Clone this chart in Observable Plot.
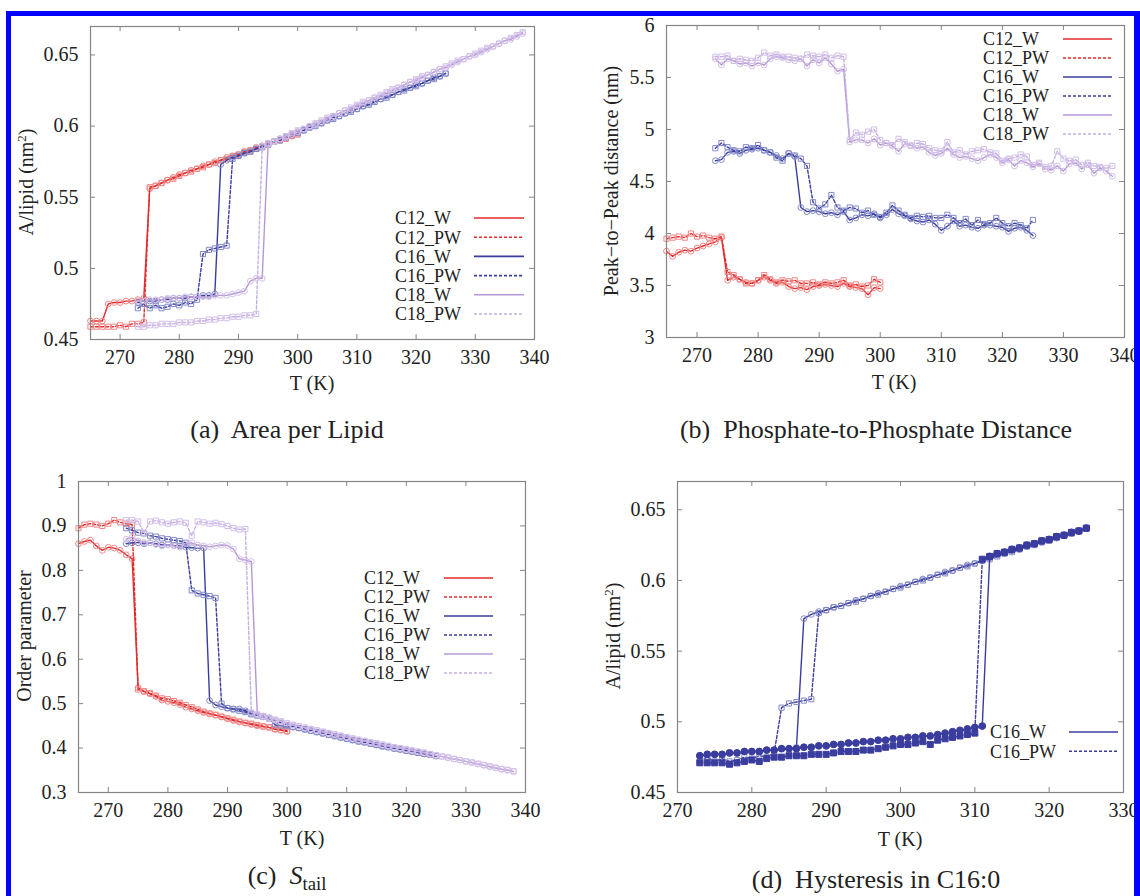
<!DOCTYPE html>
<html>
<head>
<meta charset="utf-8">
<script src="https://cdn.jsdelivr.net/npm/d3@7"></script>
<script src="https://cdn.jsdelivr.net/npm/@observablehq/plot@0.6"></script>
<style>
  html, body { margin: 0; padding: 0; background: #fff; }
  body { width: 1140px; height: 896px; overflow: hidden; position: relative;
         font-family: "Liberation Serif", "DejaVu Serif", "Times New Roman", serif; color: #222; }
  .pane { position: absolute; }
  .lbl { position: absolute; white-space: nowrap; transform: translate(-50%, -50%); font-size: 20px; line-height: 1; }
  .ylbl { transform: translate(-50%, -50%) rotate(-90deg); }
  .cap { font-size: 26px; }
  sup { font-size: 0.65em; vertical-align: 0.55em; line-height: 0; }
  sub { font-size: 0.72em; vertical-align: -0.3em; line-height: 0; }
  #border { position: absolute; left: 6px; top: 11px; width: 1134px; height: 900px; box-sizing: border-box;
            border-left: 5px solid #0000ff; border-top: 5px solid #0000ff; border-right: 6px solid #0000ff;
            z-index: 10; pointer-events: none; }
</style>
</head>
<body>
<script>
// ---------- temperature grids (K) ----------
const tC12 = [265,266,267,268,269,270,271,272,273,274,275,276,277,278,279,280,281,282,283,284,285,286,287,288,289,290,291,292,293,294,295,296,297,298,299,300];
const tC16 = [273,274,275,276,277,278,279,280,281,282,283,284,285,286,287,288,289,290,291,292,293,294,295,296,297,298,299,300,301,302,303,304,305,306,307,308,309,310,311,312,313,314,315,316,317,318,319,320,321,322,323,324,325];
const tC18 = [273,274,275,276,277,278,279,280,281,282,283,284,285,286,287,288,289,290,291,292,293,294,295,296,297,298,299,300,301,302,303,304,305,306,307,308,309,310,311,312,313,314,315,316,317,318,319,320,321,322,323,324,325,326,327,328,329,330,331,332,333,334,335,336,337,338];

// ---------- (a) area per lipid (nm^2) ----------
const apl_C12_W  = [0.463,0.463,0.463,0.475,0.476,0.476,0.477,0.477,0.478,0.479,0.556,0.558,0.560,0.562,0.564,0.566,0.567,0.569,0.570,0.572,0.573,0.575,0.576,0.578,0.579,0.580,0.582,0.583,0.585,0.586,0.588,0.589,0.590,0.592,0.593,0.595];
const apl_C12_PW = [0.459,0.459,0.459,0.459,0.459,0.460,0.459,0.461,0.461,0.462,0.557,0.558,0.560,0.562,0.563,0.565,0.567,0.568,0.570,0.571,0.573,0.574,0.576,0.577,0.579,0.580,0.582,0.583,0.584,0.586,0.587,0.589,0.590,0.591,0.593,0.594];
const apl_C16_W  = [0.476,0.477,0.477,0.477,0.478,0.478,0.479,0.479,0.479,0.480,0.480,0.481,0.481,0.482,0.573,0.576,0.578,0.579,0.581,0.582,0.584,0.586,0.587,0.589,0.591,0.592,0.594,0.596,0.597,0.599,0.601,0.602,0.604,0.606,0.607,0.609,0.611,0.612,0.614,0.616,0.618,0.619,0.621,0.622,0.624,0.626,0.627,0.629,0.630,0.632,0.634,0.635,0.637];
const apl_C16_PW = [0.472,0.475,0.472,0.474,0.472,0.473,0.475,0.474,0.476,0.475,0.478,0.510,0.513,0.514,0.515,0.516,0.577,0.579,0.581,0.582,0.584,0.585,0.587,0.589,0.590,0.592,0.594,0.595,0.597,0.599,0.600,0.602,0.604,0.605,0.607,0.609,0.610,0.612,0.614,0.615,0.617,0.619,0.620,0.622,0.624,0.625,0.627,0.628,0.630,0.632,0.633,0.635,0.637];
const apl_C18_W  = [0.477,0.477,0.478,0.478,0.478,0.479,0.479,0.479,0.480,0.480,0.480,0.480,0.480,0.481,0.481,0.481,0.482,0.483,0.484,0.491,0.493,0.493,0.587,0.589,0.591,0.592,0.594,0.596,0.598,0.600,0.601,0.603,0.605,0.607,0.609,0.611,0.612,0.614,0.616,0.618,0.620,0.621,0.623,0.625,0.627,0.629,0.631,0.632,0.634,0.636,0.638,0.640,0.641,0.643,0.645,0.647,0.649,0.650,0.652,0.654,0.656,0.658,0.660,0.661,0.663,0.665];
const apl_C18_PW = [0.459,0.459,0.460,0.460,0.461,0.461,0.461,0.462,0.462,0.462,0.463,0.463,0.464,0.464,0.465,0.465,0.466,0.466,0.467,0.467,0.468,0.586,0.588,0.589,0.591,0.593,0.595,0.597,0.598,0.600,0.602,0.604,0.606,0.607,0.609,0.611,0.613,0.615,0.617,0.618,0.620,0.622,0.624,0.626,0.627,0.629,0.631,0.633,0.635,0.636,0.638,0.640,0.642,0.644,0.646,0.647,0.649,0.651,0.653,0.655,0.656,0.658,0.660,0.662,0.664,0.666];

// ---------- (b) peak-to-peak distance (nm) ----------
const p2p_C12_W  = [3.83,3.78,3.82,3.84,3.83,3.86,3.88,3.90,3.92,3.96,3.55,3.58,3.56,3.53,3.52,3.55,3.58,3.55,3.52,3.53,3.49,3.47,3.48,3.46,3.49,3.50,3.51,3.50,3.49,3.52,3.49,3.48,3.47,3.41,3.48,3.47];
const p2p_C12_PW = [3.95,3.96,3.97,3.96,4.00,3.97,3.98,3.96,3.95,3.97,3.63,3.60,3.56,3.52,3.52,3.55,3.60,3.56,3.53,3.55,3.54,3.55,3.52,3.52,3.53,3.51,3.53,3.52,3.53,3.55,3.50,3.51,3.49,3.50,3.56,3.53];
const p2p_C16_W  = [4.70,4.71,4.78,4.79,4.77,4.80,4.81,4.82,4.80,4.78,4.75,4.72,4.77,4.74,4.25,4.21,4.22,4.21,4.19,4.20,4.18,4.21,4.13,4.15,4.18,4.17,4.19,4.15,4.18,4.23,4.19,4.17,4.14,4.12,4.11,4.13,4.09,4.03,4.07,4.12,4.07,4.08,4.06,4.05,4.08,4.08,4.07,4.06,4.02,4.05,4.06,4.03,3.98];
const p2p_C16_PW = [4.82,4.87,4.83,4.80,4.79,4.83,4.82,4.85,4.80,4.78,4.73,4.70,4.77,4.75,4.72,4.65,4.30,4.24,4.28,4.37,4.25,4.22,4.25,4.24,4.20,4.22,4.18,4.16,4.20,4.27,4.22,4.18,4.15,4.17,4.16,4.17,4.15,4.15,4.18,4.15,4.10,4.14,4.08,4.13,4.09,4.10,4.15,4.10,4.07,4.10,4.08,4.05,4.13];
const p2p_C18_W  = [5.68,5.62,5.68,5.66,5.63,5.64,5.61,5.64,5.62,5.68,5.70,5.69,5.67,5.66,5.68,5.61,5.67,5.64,5.69,5.63,5.56,5.58,4.88,4.90,4.90,4.87,4.91,4.85,4.87,4.84,4.79,4.86,4.85,4.82,4.83,4.78,4.75,4.77,4.82,4.76,4.73,4.74,4.72,4.70,4.73,4.76,4.73,4.68,4.71,4.65,4.70,4.68,4.64,4.67,4.62,4.61,4.65,4.60,4.67,4.68,4.62,4.66,4.58,4.63,4.60,4.55];
const p2p_C18_PW = [5.70,5.70,5.71,5.66,5.68,5.67,5.66,5.69,5.74,5.71,5.72,5.70,5.70,5.69,5.68,5.72,5.71,5.70,5.72,5.69,5.71,5.70,4.90,4.97,4.95,4.98,5.00,4.90,4.87,4.85,4.91,4.88,4.84,4.87,4.86,4.82,4.80,4.79,4.88,4.78,4.80,4.76,4.79,4.80,4.81,4.78,4.77,4.70,4.72,4.73,4.76,4.74,4.66,4.68,4.64,4.65,4.79,4.72,4.70,4.71,4.66,4.68,4.65,4.64,4.63,4.65];

// ---------- (c) S_tail order parameter ----------
const st_C12_W  = [0.860,0.865,0.868,0.855,0.845,0.852,0.850,0.845,0.835,0.826,0.536,0.527,0.522,0.516,0.508,0.505,0.502,0.498,0.492,0.488,0.484,0.480,0.477,0.474,0.470,0.466,0.462,0.459,0.456,0.453,0.450,0.448,0.446,0.442,0.440,0.437];
const st_C12_PW = [0.895,0.903,0.905,0.903,0.900,0.905,0.913,0.908,0.905,0.903,0.532,0.528,0.524,0.518,0.512,0.510,0.506,0.502,0.497,0.492,0.487,0.482,0.478,0.475,0.471,0.467,0.464,0.460,0.457,0.455,0.452,0.449,0.447,0.443,0.441,0.439];
const st_C16_W  = [0.860,0.862,0.862,0.860,0.862,0.860,0.857,0.858,0.856,0.855,0.852,0.851,0.850,0.850,0.507,0.497,0.493,0.490,0.488,0.488,0.484,0.478,0.475,0.472,0.468,0.452,0.450,0.449,0.447,0.445,0.442,0.439,0.436,0.433,0.430,0.427,0.424,0.421,0.418,0.415,0.413,0.410,0.407,0.404,0.402,0.399,0.397,0.394,0.392,0.390,0.387,0.385,0.382];
const st_C16_PW = [0.895,0.890,0.885,0.883,0.878,0.876,0.872,0.870,0.868,0.866,0.862,0.755,0.748,0.745,0.742,0.738,0.500,0.490,0.487,0.484,0.481,0.476,0.473,0.470,0.466,0.462,0.457,0.452,0.448,0.445,0.442,0.439,0.436,0.433,0.430,0.427,0.424,0.421,0.418,0.415,0.413,0.410,0.407,0.404,0.402,0.399,0.397,0.394,0.392,0.389,0.387,0.385,0.382];
const st_C18_W  = [0.870,0.875,0.866,0.862,0.862,0.858,0.855,0.858,0.855,0.852,0.860,0.862,0.857,0.855,0.853,0.855,0.857,0.856,0.848,0.826,0.823,0.820,0.475,0.470,0.466,0.463,0.460,0.456,0.452,0.449,0.446,0.443,0.440,0.436,0.433,0.430,0.427,0.424,0.421,0.418,0.416,0.413,0.410,0.407,0.404,0.401,0.399,0.397,0.394,0.392,0.389,0.386,0.383,0.381,0.378,0.375,0.373,0.370,0.367,0.364,0.361,0.358,0.355,0.352,0.350,0.347];
const st_C18_PW = [0.913,0.913,0.910,0.885,0.910,0.912,0.908,0.905,0.908,0.910,0.907,0.878,0.910,0.908,0.905,0.907,0.904,0.900,0.895,0.892,0.893,0.480,0.476,0.472,0.468,0.464,0.460,0.456,0.452,0.449,0.446,0.443,0.440,0.437,0.434,0.431,0.428,0.425,0.422,0.419,0.416,0.413,0.411,0.408,0.405,0.402,0.400,0.397,0.395,0.392,0.390,0.387,0.384,0.381,0.379,0.376,0.373,0.370,0.368,0.365,0.362,0.359,0.356,0.353,0.351,0.348];

// ---------- (d) hysteresis, heating runs of C16 ----------
const hyst_C16_W_heat  = [0.476,0.477,0.477,0.477,0.478,0.478,0.479,0.479,0.479,0.480,0.480,0.481,0.481,0.481,0.482,0.482,0.483,0.483,0.484,0.484,0.485,0.485,0.486,0.486,0.487,0.487,0.488,0.488,0.489,0.489,0.490,0.490,0.491,0.492,0.493,0.494,0.495,0.496,0.497,0.617,0.619,0.620,0.622,0.623,0.625,0.626,0.628,0.629,0.631,0.632,0.634,0.635,0.637];
const hyst_C16_PW_heat = [0.471,0.471,0.471,0.471,0.470,0.471,0.472,0.473,0.472,0.474,0.475,0.475,0.476,0.476,0.476,0.477,0.477,0.477,0.478,0.479,0.479,0.479,0.480,0.480,0.481,0.482,0.483,0.484,0.484,0.485,0.486,0.484,0.487,0.488,0.489,0.490,0.491,0.492,0.615,0.617,0.619,0.620,0.622,0.623,0.625,0.626,0.628,0.629,0.631,0.632,0.634,0.635,0.637];

// ---------- ticks, names, texts ----------
const xTicksT   = [270,280,290,300,310,320,330,340];
const xTicksD   = [270,280,290,300,310,320,330];
const yTicksAPL = [0.45,0.5,0.55,0.6,0.65];
const yTicksP2P = [3,3.5,4,4.5,5,5.5,6];
const yTicksS   = [0.3,0.4,0.5,0.6,0.7,0.8,0.9,1];
const seriesNames = ["C12_W","C12_PW","C16_W","C16_PW","C18_W","C18_PW"];
const hystNames = ["C16_W","C16_PW"];

// ---------- styles ----------
const COL = {
  C12: {line: "#e52a2c", mark: "#f08585"},
  C16: {line: "#3a3c9e", mark: "#8288c8"},
  C18: {line: "#b498d6", mark: "#d2bfe8"}
};
const DASH = "3,2";
const AXC = "#858585";
const FONT = "Liberation Serif, DejaVu Serif, Times New Roman, serif";

function rows(ts, vs) { return ts.map((t, i) => ({T: t, v: vs[i]})); }

function seriesMarks(s) {
  const c = COL[s.group];
  const data = rows(s.t, s.v);
  const pw = s.kind === "PW";
  const lineColor = (s.group === "C18" && pw) ? "#c5b0e2" : c.line;
  return [
    Plot.line(data, {x: "T", y: "v", stroke: lineColor, strokeWidth: 1.4, strokeDasharray: pw ? DASH : null}),
    Plot.dot(data, {x: "T", y: "v", r: s.filled ? 3.4 : 2.9, symbol: pw ? "square" : "circle",
      stroke: s.filled ? c.line : c.mark, fill: s.filled ? c.line : "none", strokeWidth: 1})
  ];
}

function panel(cfg) {
  const fw = cfg.width - cfg.mL - cfg.mR, fh = cfg.height - cfg.mT - cfg.mB;
  const marks = [
    Plot.tickX(cfg.xTicks, {x: d => d, insetTop: fh - 5, stroke: AXC}),
    Plot.tickX(cfg.xTicks, {x: d => d, insetBottom: fh - 5, stroke: AXC}),
    Plot.tickY(cfg.yTicks, {y: d => d, insetRight: fw - 5, stroke: AXC}),
    Plot.tickY(cfg.yTicks, {y: d => d, insetLeft: fw - 5, stroke: AXC}),
    Plot.axisX(cfg.xTicks, {tickSize: 0, tickPadding: 10, tickFormat: d => String(d), label: null, fill: "#222"}),
    Plot.axisY(cfg.yTicks, {tickSize: 0, tickPadding: 12, tickFormat: d => String(d), label: null, fill: "#222"}),
    ...cfg.series.flatMap(seriesMarks),
    Plot.frame({stroke: AXC, strokeWidth: 1.2})
  ];
  const svg = Plot.plot({
    width: cfg.width, height: cfg.height,
    marginLeft: cfg.mL, marginRight: cfg.mR, marginTop: cfg.mT, marginBottom: cfg.mB,
    x: {domain: cfg.xDomain},
    y: {domain: cfg.yDomain},
    style: {fontFamily: FONT, fontSize: "20px", background: "transparent", overflow: "visible", color: "#222"},
    marks
  });
  const div = document.createElement("div");
  div.className = "pane";
  div.style.left = cfg.left + "px";
  div.style.top = cfg.top + "px";
  div.appendChild(svg);
  document.body.appendChild(div);
}

function six(c12, c16, c18) {
  return [
    {group: "C12", kind: "W",  t: tC12, v: c12[0]},
    {group: "C12", kind: "PW", t: tC12, v: c12[1]},
    {group: "C16", kind: "W",  t: tC16, v: c16[0]},
    {group: "C16", kind: "PW", t: tC16, v: c16[1]},
    {group: "C18", kind: "W",  t: tC18, v: c18[0]},
    {group: "C18", kind: "PW", t: tC18, v: c18[1]}
  ];
}

// (a)
panel({left: 0, top: 0, width: 560, height: 372, mL: 90, mR: 26, mT: 26, mB: 33,
  xDomain: [265, 340], yDomain: [0.45, 0.67], xTicks: xTicksT, yTicks: yTicksAPL,
  series: six([apl_C12_W, apl_C12_PW], [apl_C16_W, apl_C16_PW], [apl_C18_W, apl_C18_PW])});
// (b)
panel({left: 570, top: 0, width: 570, height: 372, mL: 96, mR: 16, mT: 25, mB: 35,
  xDomain: [265, 340], yDomain: [3, 6], xTicks: xTicksT, yTicks: yTicksP2P,
  series: six([p2p_C12_W, p2p_C12_PW], [p2p_C16_W, p2p_C16_PW], [p2p_C18_W, p2p_C18_PW])});
// (c)
panel({left: 0, top: 450, width: 560, height: 372, mL: 78, mR: 35, mT: 31, mB: 30,
  xDomain: [265, 340], yDomain: [0.3, 1], xTicks: xTicksT, yTicks: yTicksS,
  series: six([st_C12_W, st_C12_PW], [st_C16_W, st_C16_PW], [st_C18_W, st_C18_PW])});
// (d)
panel({left: 570, top: 450, width: 570, height: 372, mL: 107, mR: 17, mT: 31, mB: 30,
  xDomain: [270, 330], yDomain: [0.45, 0.67], xTicks: xTicksD, yTicks: yTicksAPL,
  series: [
    {group: "C16", kind: "W",  t: tC16, v: apl_C16_W},
    {group: "C16", kind: "PW", t: tC16, v: apl_C16_PW},
    {group: "C16", kind: "W",  t: tC16, v: hyst_C16_W_heat,  filled: true},
    {group: "C16", kind: "PW", t: tC16, v: hyst_C16_PW_heat, filled: true}
  ]});

// ---------- legends ----------
const legendSvg = d3.select("body").append("svg")
  .attr("width", 1140).attr("height", 896)
  .style("position", "absolute").style("left", "0px").style("top", "0px").style("z-index", 5)
  .style("pointer-events", "none");
function legend(names, textX, x1, x2, y0, dy) {
  names.forEach((name, i) => {
    const grp = name.slice(0, 3), pw = name.endsWith("PW");
    const y = y0 + i * dy;
    legendSvg.append("text").attr("x", textX).attr("y", y).attr("dy", "0.35em")
      .attr("font-family", FONT).attr("font-size", 18).attr("fill", "#222")
      .text(name);
    legendSvg.append("line").attr("x1", x1).attr("x2", x2).attr("y1", y).attr("y2", y)
      .attr("stroke", (grp === "C18" && pw) ? "#c5b0e2" : COL[grp].line).attr("stroke-width", 1.6)
      .attr("stroke-dasharray", pw ? DASH : null);
  });
}
legend(seriesNames, 395, 474, 524, 218, 19.2);
legend(seriesNames, 983, 1063, 1112, 39, 19);
legend(seriesNames, 364, 444, 493, 578, 19);
legend(hystNames, 990, 1069, 1118, 732, 19.2);

// ---------- titles & captions ----------
const texts = [
  {html: "A/lipid (nm<sup>2</sup>)", x: 26, y: 182, rot: true},
  {html: "Peak\u2212to\u2212Peak distance (nm)", x: 611, y: 181, rot: true},
  {html: "Order parameter", x: 24, y: 636, rot: true},
  {html: "A/lipid (nm<sup>2</sup>)", x: 613, y: 636, rot: true},
  {html: "T (K)", x: 312, y: 383},
  {html: "T (K)", x: 894, y: 382},
  {html: "T (K)", x: 302, y: 838},
  {html: "T (K)", x: 900, y: 839},
  {html: "(a)&nbsp; Area per Lipid", x: 287, y: 430, cap: true},
  {html: "(b)&nbsp; Phosphate-to-Phosphate Distance", x: 876, y: 430, cap: true},
  {html: "(c)&nbsp; <i>S</i><sub>tail</sub>", x: 287, y: 876, cap: true},
  {html: "(d)&nbsp; Hysteresis in C16:0", x: 876, y: 880, cap: true}
];
texts.forEach(t => {
  const d = document.createElement("div");
  d.className = "lbl" + (t.rot ? " ylbl" : "") + (t.cap ? " cap" : "");
  d.style.left = t.x + "px";
  d.style.top = t.y + "px";
  d.innerHTML = t.html;
  document.body.appendChild(d);
});

const border = document.createElement("div");
border.id = "border";
document.body.appendChild(border);
</script>
</body>
</html>
